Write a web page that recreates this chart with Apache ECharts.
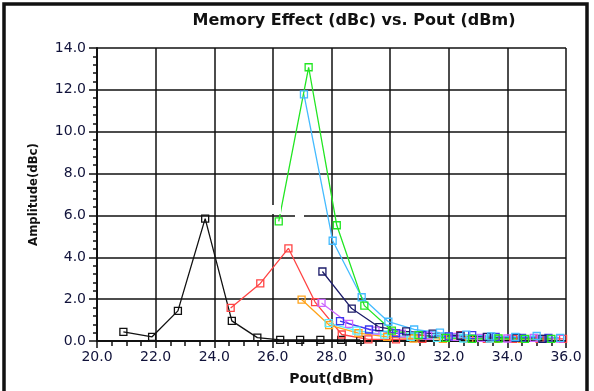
<!DOCTYPE html>
<html>
<head>
<meta charset="utf-8">
<script src="https://cdn.jsdelivr.net/npm/echarts@6/dist/echarts.min.js"></script>
<style>html,body{margin:0;padding:0;background:#fff}#c{width:594px;height:391px}</style>
</head>
<body>
<div id="c"></div>
<script>
const titleText = 'Memory Effect (dBc) vs. Pout (dBm)';
const xName = 'Pout(dBm)';
const yName = 'Amplitude(dBc)';
const xMin = 20, xMax = 36, xStep = 2;
const yMin = 0, yMax = 14, yStep = 2;

const blackX = [20.9, 21.88, 22.76, 23.69, 24.6, 25.47, 26.25, 26.93, 27.62, 28.33, 28.98];
const blackY = [0.44, 0.2, 1.44, 5.85, 0.96, 0.16, 0.05, 0.05, 0.05, 0.05, 0.05];

const redX = [24.56, 25.57, 26.53, 27.44, 28.35, 29.26, 30.2, 31.1, 32.39, 33.3, 34.2, 35.1, 35.9];
const redY = [1.58, 2.75, 4.43, 1.86, 0.31, 0.08, 0.08, 0.1, 0.28, 0.1, 0.1, 0.1, 0.1];

const greenX = [26.2, 27.22, 28.18, 29.12, 30.06, 30.97, 31.9, 32.8, 33.7, 34.6, 35.5];
const greenY = [5.72, 13.08, 5.53, 1.69, 0.5, 0.28, 0.15, 0.1, 0.12, 0.1, 0.1];

const skyX = [27.06, 28.04, 29.03, 29.94, 30.82, 31.7, 32.6, 33.45, 34.27, 35.0, 35.8];
const skyY = [11.78, 4.79, 2.09, 0.92, 0.55, 0.4, 0.3, 0.22, 0.19, 0.24, 0.15];

const navyX = [27.69, 28.69, 29.63, 30.55, 31.45, 32.4, 33.3, 34.3, 35.2];
const navyY = [3.32, 1.55, 0.66, 0.46, 0.35, 0.25, 0.2, 0.15, 0.1];

const orangeX = [26.98, 27.92, 28.92, 29.9, 30.8, 31.8, 32.7, 33.6, 34.5, 35.4];
const orangeY = [1.98, 0.76, 0.38, 0.2, 0.12, 0.1, 0.1, 0.1, 0.1, 0.1];

const violetX = [27.66, 28.6, 29.5, 30.4, 31.3, 32.2, 33.1, 34.0, 34.9, 35.8];
const violetY = [1.82, 0.82, 0.5, 0.35, 0.25, 0.2, 0.15, 0.12, 0.15, 0.12];

const blueX = [28.29, 29.28, 30.2, 31.1, 32.0, 32.8, 33.6, 34.5, 35.4];
const blueY = [0.95, 0.55, 0.38, 0.28, 0.22, 0.28, 0.2, 0.15, 0.15];

const aquaX = [27.9, 28.85, 29.8, 30.7, 31.6, 32.5, 33.4, 34.3, 35.2];
const aquaY = [0.85, 0.5, 0.3, 0.2, 0.15, 0.12, 0.12, 0.15, 0.1];

const seriesDefs = [
  ['Black', blackX, blackY, '#111111'],
  ['Red', redX, redY, '#ff4444'],
  ['Orange', orangeX, orangeY, '#ffa31a'],
  ['Violet', violetX, violetY, '#cc66ff'],
  ['Aqua', aquaX, aquaY, '#55eeff'],
  ['Blue', blueX, blueY, '#3a3aee'],
  ['Navy', navyX, navyY, '#1c1c6a'],
  ['Sky', skyX, skyY, '#44bbff'],
  ['Green', greenX, greenY, '#22e622']
];

const chart = echarts.init(document.getElementById('c'), null, {renderer: 'canvas'});
const txt = '#10123a';
const sans = '"DejaVu Sans", sans-serif';
chart.setOption({
  animation: false,
  backgroundColor: '#fff',
  title: {
    text: titleText, left: 349, top: 8, textAlign: 'center',
    textStyle: {fontFamily: sans, fontWeight: 'bold', fontSize: 16, color: '#111'}
  },
  grid: {left: 97, right: 28, top: 48, bottom: 48},
  xAxis: {
    type: 'value', min: xMin, max: xMax, interval: xStep,
    name: xName, nameLocation: 'middle', nameGap: 31,
    nameTextStyle: {fontFamily: sans, fontWeight: 'bold', fontSize: 14, color: '#111'},
    axisLine: {show: true, lineStyle: {color: '#111', width: 2}},
    axisTick: {show: true, length: 7, lineStyle: {color: '#111', width: 1.5}},
    minorTick: {show: true, splitNumber: 4, length: 5, lineStyle: {color: '#111', width: 1.5}},
    axisLabel: {formatter: v => v.toFixed(1), fontFamily: sans, fontSize: 14, color: txt, margin: 9},
    splitLine: {show: true, lineStyle: {color: '#111', width: 1.5}}
  },
  yAxis: {
    type: 'value', min: yMin, max: yMax, interval: yStep,
    name: yName, nameLocation: 'middle', nameGap: 57, nameRotate: 90,
    nameTextStyle: {fontFamily: '"DejaVu Sans Condensed", "DejaVu Sans", sans-serif', fontWeight: 'bold', fontSize: 13, color: '#111'},
    axisLine: {show: true, lineStyle: {color: '#111', width: 2}},
    axisTick: {show: true, length: 8, lineStyle: {color: '#111', width: 1.5}},
    minorTick: {show: true, splitNumber: 5, length: 4, lineStyle: {color: '#111', width: 1.5}},
    axisLabel: {formatter: v => v.toFixed(1), fontFamily: sans, fontSize: 14, color: txt, margin: 11},
    splitLine: {show: true, lineStyle: {color: '#111', width: 1.5}}
  },
  series: seriesDefs.map(([name, xs, ys, c]) => ({
    name, type: 'line',
    data: xs.map((x, i) => [x, ys[i]]),
    symbol: 'rect', symbolSize: 7, showAllSymbol: true,
    lineStyle: {color: c, width: 1.3},
    itemStyle: {color: 'rgba(255,255,255,0)', borderColor: c, borderWidth: 1.3},
    emphasis: {disabled: true}
  })),
  graphic: [
    {type: 'rect', shape: {x: 4, y: 4, width: 583, height: 390}, style: {fill: 'none', stroke: '#111', lineWidth: 3.5}, z: 100},
    {type: 'rect', shape: {x: 271, y: 205, width: 10, height: 9}, style: {fill: '#fff'}, z: 50},
    {type: 'rect', shape: {x: 295, y: 214, width: 9, height: 5}, style: {fill: '#fff'}, z: 50}
  ]
});
</script>
</body>
</html>
